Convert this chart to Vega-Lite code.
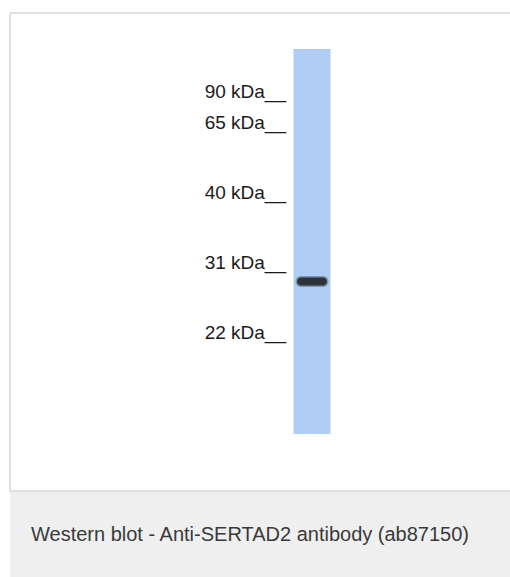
{
  "$schema": "https://vega.github.io/schema/vega-lite/v6.json",
  "padding": {"left": 9, "top": 12, "right": 0, "bottom": 0},
  "spacing": 0,
  "background": "white",
  "config": {"concat": {"spacing": 0}},
  "datasets": {
    "markers": [
      {"kDa": 90, "label": "90 kDa__", "lane": 0},
      {"kDa": 65, "label": "65 kDa__", "lane": 0},
      {"kDa": 40, "label": "40 kDa__", "lane": 0},
      {"kDa": 31, "label": "31 kDa__", "lane": 0},
      {"kDa": 22, "label": "22 kDa__", "lane": 0}
    ],
    "lanes": [
      {"lane": 1, "top_kDa": 129.5, "bottom_kDa": 9.8}
    ],
    "bands": [
      {"lane": 1, "kDa": 29.4, "intensity": 1}
    ],
    "caption": [
      {"caption": "Western blot - Anti-SERTAD2 antibody (ab87150)"}
    ]
  },
  "vconcat": [
    {
      "width": 500,
      "height": 478,
      "view": {"stroke": "#e0e0e0", "strokeWidth": 2, "fill": "white", "strokeDash": [500, 478, 978, 0]},
      "layer": [
        {
          "data": {"name": "lanes"},
          "mark": {"type": "rule", "color": "#b0cdf4", "strokeWidth": 37, "strokeCap": "butt"},
          "encoding": {
            "x": {"field": "lane", "type": "quantitative", "scale": {"domain": [0, 1], "range": [276, 302]}, "axis": null},
            "y": {"field": "top_kDa", "type": "quantitative", "scale": {"domain": [90, 65, 40, 31, 22], "range": [85, 116, 186, 256, 326], "nice": false, "zero": false}, "axis": null},
            "y2": {"field": "bottom_kDa"}
          }
        },
        {
          "data": {"name": "bands"},
          "mark": {"type": "tick", "orient": "horizontal", "color": "#2a2a2a", "opacity": 0.35, "size": 33, "thickness": 11, "cornerRadius": 5.5},
          "encoding": {
            "x": {"field": "lane", "type": "quantitative"},
            "y": {"field": "kDa", "type": "quantitative"}
          }
        },
        {
          "data": {"name": "bands"},
          "mark": {"type": "tick", "orient": "horizontal", "color": "#0a0a0a", "size": 30, "thickness": 8, "cornerRadius": 4},
          "encoding": {
            "x": {"field": "lane", "type": "quantitative"},
            "y": {"field": "kDa", "type": "quantitative"}
          }
        },
        {
          "data": {"name": "markers"},
          "mark": {"type": "text", "align": "right", "baseline": "alphabetic", "font": "Liberation Sans", "fontSize": 19, "color": "#1a1a1a"},
          "encoding": {
            "x": {"field": "lane", "type": "quantitative"},
            "y": {"field": "kDa", "type": "quantitative"},
            "text": {"field": "label"}
          }
        }
      ]
    },
    {
      "width": 500,
      "height": 87,
      "view": {"stroke": null, "fill": "#eeefee"},
      "data": {"name": "caption"},
      "mark": {"type": "text", "align": "left", "baseline": "middle", "dx": -229, "dy": -1, "font": "Liberation Sans", "fontSize": 20, "color": "#3a3a3a"},
      "encoding": {
        "text": {"field": "caption"}
      }
    }
  ]
}
